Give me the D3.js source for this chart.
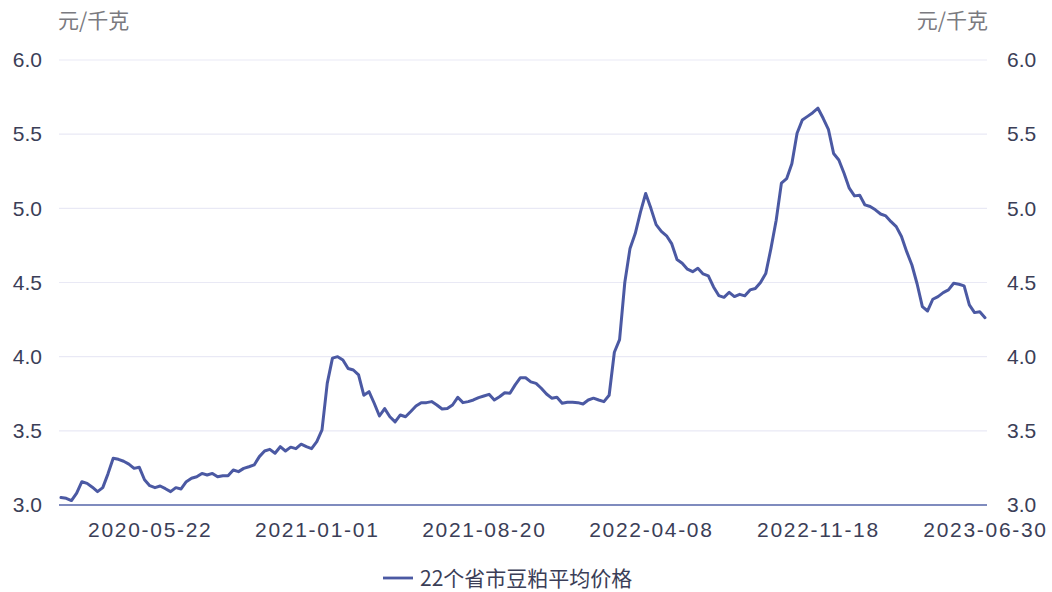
<!DOCTYPE html>
<html><head><meta charset="utf-8">
<script src="https://cdn.jsdelivr.net/npm/d3@7"></script>
<style>
html,body{margin:0;padding:0;background:#fff;}
svg{display:block;}
text{font-family:"Liberation Sans","Noto Sans CJK SC",sans-serif;}
</style></head>
<body><svg id="c" width="1052" height="592"></svg>
<script>
// ---- data ----
const seriesName = "22个省市豆粕平均价格";
const unitLabel = "元/千克";
const firstWeek = "2020-01-24";
const lastWeek = "2023-06-30";
const skippedWeeks = ["2021-02-12", "2022-02-04"];
const xTickLabels = ["2020-05-22", "2021-01-01", "2021-08-20", "2022-04-08", "2022-11-18", "2023-06-30"];
const yTicks = [3.0, 3.5, 4.0, 4.5, 5.0, 5.5, 6.0];
const prices = [
 3.05,3.045,3.03,3.08,3.157,3.146,3.12,3.09,3.117,3.21,
 3.315,3.308,3.295,3.276,3.247,3.254,3.17,3.13,3.117,3.128,
 3.11,3.09,3.117,3.108,3.157,3.18,3.19,3.213,3.202,3.213,
 3.19,3.197,3.197,3.236,3.225,3.247,3.258,3.27,3.326,3.364,
 3.375,3.349,3.393,3.364,3.39,3.38,3.41,3.393,3.38,3.427,
 3.506,3.82,3.99,4.0,3.978,3.92,3.91,3.877,3.74,3.764,
 3.686,3.6,3.65,3.595,3.56,3.607,3.595,3.63,3.667,3.69,
 3.69,3.697,3.674,3.647,3.65,3.674,3.726,3.69,3.697,3.708,
 3.724,3.735,3.746,3.708,3.73,3.757,3.753,3.81,3.858,3.858,
 3.83,3.82,3.787,3.748,3.72,3.726,3.686,3.692,3.692,3.69,
 3.681,3.708,3.72,3.708,3.697,3.74,4.03,4.115,4.50,4.73,
 4.83,4.975,5.10,5.00,4.89,4.845,4.815,4.76,4.655,4.63,
 4.59,4.573,4.596,4.558,4.545,4.47,4.412,4.40,4.434,4.405,
 4.42,4.41,4.45,4.46,4.50,4.56,4.73,4.92,5.17,5.20,
 5.30,5.506,5.596,5.62,5.645,5.675,5.607,5.533,5.37,5.326,
 5.236,5.136,5.084,5.088,5.023,5.012,4.99,4.962,4.949,4.91,
 4.877,4.81,4.708,4.618,4.49,4.337,4.308,4.387,4.405,4.432,
 4.45,4.495,4.488,4.477,4.349,4.297,4.303,4.263
];

// weekly categories (Fridays), excluding holiday weeks
const fmt = d3.utcFormat("%Y-%m-%d");
const dates = d3.utcDay.range(new Date(firstWeek+"T00:00Z"), d3.utcDay.offset(new Date(lastWeek+"T00:00Z"),1), 7)
  .map(fmt).filter(d => !skippedWeeks.includes(d));
const data = dates.map((d,i)=>({date:d, value:prices[i]}));

// ---- layout ----
const svg = d3.select("#c");
const gridLeft = 59, gridRight = 987;
const x = d3.scalePoint().domain(dates).range([61, 985]);
const y = d3.scaleLinear().domain([3, 6]).range([505, 60]);

// grid lines
svg.append("g").selectAll("line").data(yTicks.slice(1)).join("line")
  .attr("x1", gridLeft).attr("x2", gridRight)
  .attr("y1", d=>y(d)).attr("y2", d=>y(d))
  .attr("stroke", "#e9e9f5").attr("stroke-width", 1.2);

// left axis labels
const yl = svg.append("g").attr("transform", `translate(42,0)`)
  .call(d3.axisLeft(y).tickValues(yTicks).tickFormat(d3.format(".1f")).tickSize(0));
yl.select(".domain").remove();
yl.selectAll("text").attr("fill","#3b3e57").attr("font-size",21).attr("x",0);

// right axis labels
const yr = svg.append("g").attr("transform", `translate(1007,0)`)
  .call(d3.axisRight(y).tickValues(yTicks).tickFormat(d3.format(".1f")).tickSize(0));
yr.select(".domain").remove();
yr.selectAll("text").attr("fill","#3b3e57").attr("font-size",21).attr("x",0);

// bottom axis
svg.append("line").attr("x1",gridLeft).attr("x2",gridRight)
  .attr("y1",y(3)).attr("y2",y(3)).attr("stroke","#5564a8").attr("stroke-width",1.5);
const xa = svg.append("g").attr("transform", `translate(0,${y(3)+14})`)
  .call(d3.axisBottom(x).tickValues(xTickLabels).tickSize(0));
xa.select(".domain").remove();
xa.selectAll("text").attr("fill","#3b3e57").attr("font-size",21).attr("letter-spacing","1.7px").attr("dy","0.71em");

// unit labels
svg.append("text").attr("x",58).attr("y",28).attr("font-size",21).attr("fill","#7a7a80")
  .style("font-family","'Noto Sans CJK SC',sans-serif").text(unitLabel);
svg.append("text").attr("x",988).attr("y",28).attr("text-anchor","end").attr("font-size",21).attr("fill","#7a7a80")
  .style("font-family","'Noto Sans CJK SC',sans-serif").text(unitLabel);

// line
svg.append("path").datum(data)
  .attr("fill","none").attr("stroke","#4b59a3").attr("stroke-width",3)
  .attr("stroke-linejoin","round").attr("stroke-linecap","round")
  .attr("d", d3.line().x(d=>x(d.date)).y(d=>y(d.value)));

// legend
const lg = svg.append("g").attr("transform","translate(383,578)");
lg.append("line").attr("x1",0).attr("x2",30).attr("y1",0).attr("y2",0)
  .attr("stroke","#4b59a3").attr("stroke-width",2.8);
lg.append("text").attr("x",37).attr("y",0).attr("dy","0.36em").attr("font-size",21).attr("fill","#3b3e57")
  .style("font-family","'Noto Sans CJK SC',sans-serif").text(seriesName);
</script></body></html>
